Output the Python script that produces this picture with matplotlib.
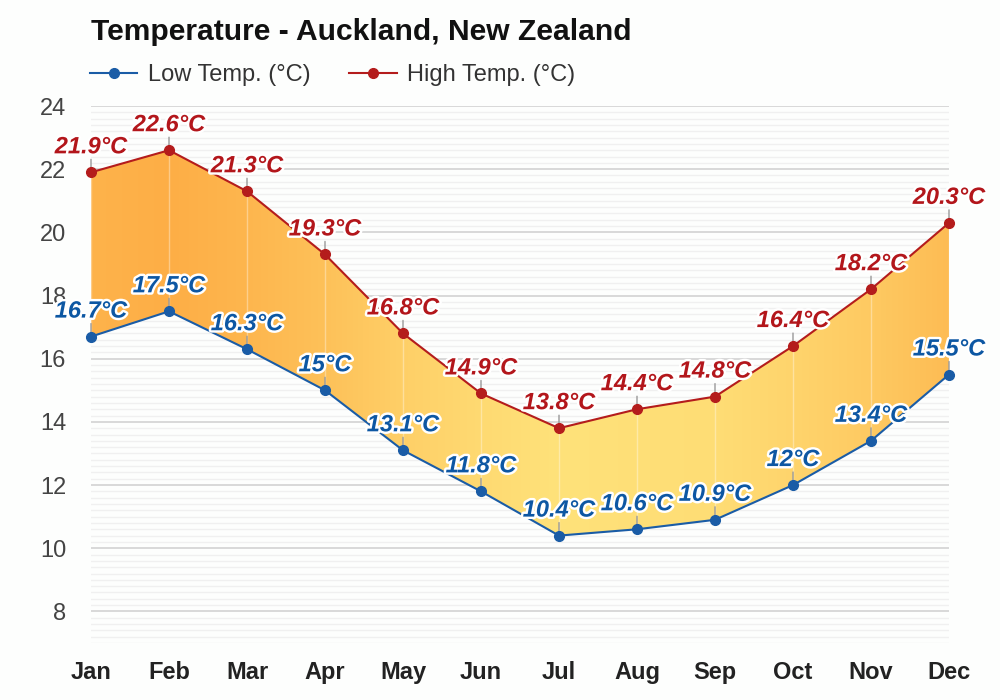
import numpy as np
import matplotlib
matplotlib.use("Agg")
import matplotlib.pyplot as plt
from matplotlib.patches import Polygon
import matplotlib.patheffects as pe

months = ["Jan", "Feb", "Mar", "Apr", "May", "Jun", "Jul", "Aug", "Sep", "Oct", "Nov", "Dec"]
low = [16.7, 17.5, 16.3, 15.0, 13.1, 11.8, 10.4, 10.6, 10.9, 12.0, 13.4, 15.5]
high = [21.9, 22.6, 21.3, 19.3, 16.8, 14.9, 13.8, 14.4, 14.8, 16.4, 18.2, 20.3]
low_labels = ["16.7°C", "17.5°C", "16.3°C", "15°C", "13.1°C", "11.8°C", "10.4°C", "10.6°C", "10.9°C", "12°C", "13.4°C", "15.5°C"]
high_labels = ["21.9°C", "22.6°C", "21.3°C", "19.3°C", "16.8°C", "14.9°C", "13.8°C", "14.4°C", "14.8°C", "16.4°C", "18.2°C", "20.3°C"]

plt.rcParams['font.family'] = ['Liberation Sans', 'DejaVu Sans']

BG = '#fdfefd'
LOW_C = '#1a5ca6'
HIGH_C = '#b41c1c'
LOW_TXT = '#0d57a3'
HIGH_TXT = '#b3161b'

fig = plt.figure(figsize=(10, 7), dpi=100, facecolor=BG)
ax = fig.add_axes([0.091, 1 - 643 / 700, 0.858, (643 - 106) / 700])
ax.set_facecolor(BG)

x = np.arange(len(months))
ax.set_xlim(0, len(months) - 1)
ax.set_ylim(7, 24)

# grid
for v in np.arange(7, 24.01, 0.2):
    major = abs(v / 2 - round(v / 2)) < 1e-6
    ax.axhline(v, color='#d6d6d6' if major else '#f0f0f0', lw=1.3 if major else 1.0, zorder=0)

# gradient fill between low and high
mean = (np.array(low) + np.array(high)) / 2
t = (mean - mean.min()) / (mean.max() - mean.min())
hot = np.array([253, 174, 70]) / 255
cold = np.array([255, 226, 122]) / 255
xs = np.linspace(0, len(months) - 1, 600)
ts = np.interp(xs, x, t)
img = cold[None, :] * (1 - ts[:, None]) + hot[None, :] * ts[:, None]
img = img[None, :, :]
im = ax.imshow(img, extent=[0, len(months) - 1, 7, 24], aspect='auto', origin='lower', zorder=1, interpolation='bilinear')
poly = Polygon(np.column_stack([np.concatenate([x, x[::-1]]), np.concatenate([high, low[::-1]])]),
               closed=True, facecolor='none', edgecolor='none', transform=ax.transData)
ax.add_patch(poly)
im.set_clip_path(poly)

# vertical light lines inside fill
for xi, lo, hi in zip(x, low, high):
    ax.plot([xi, xi], [lo, hi], color='white', alpha=0.35, lw=1, zorder=2)

ax.plot(x, low, color=LOW_C, lw=1.5, marker='o', ms=7, zorder=4, clip_on=False, label='Low Temp. (°C)')
ax.plot(x, high, color=HIGH_C, lw=1.5, marker='o', ms=7, zorder=4, clip_on=False, label='High Temp. (°C)')

stroke = [pe.withStroke(linewidth=3.5, foreground='white')]
for vals, labs, col in ((low, low_labels, LOW_TXT), (high, high_labels, HIGH_TXT)):
    for xi, v, lab in zip(x, vals, labs):
        ax.annotate('', xy=(xi, v), xytext=(0, 13), textcoords='offset pixels',
                    arrowprops=dict(arrowstyle='-', color='#999999', lw=1, shrinkA=0, shrinkB=0), zorder=3)
        ax.annotate(lab, xy=(xi, v), xytext=(0, 14), textcoords='offset pixels', ha='center', va='bottom',
                    fontsize=17, fontweight='bold', fontstyle='italic', color=col, path_effects=stroke,
                    zorder=5, annotation_clip=False)

ax.set_xticks(x)
ax.set_xticklabels(months, fontsize=17, fontweight='bold', color='#222222')
ax.set_yticks(np.arange(8, 25, 2))
ax.set_yticklabels([str(v) for v in range(8, 25, 2)], fontsize=17, color='#444444')
ax.tick_params(axis='both', length=0)
ax.tick_params(axis='y', pad=18)
ax.tick_params(axis='x', pad=13)
for s in ax.spines.values():
    s.set_visible(False)

fig.text(0.091, 1 - 32 / 700, 'Temperature - Auckland, New Zealand', fontsize=21.6, fontweight='bold',
         color='#111111', ha='left', va='center')
leg = ax.legend(loc='center left', bbox_to_anchor=(0.09, 1 - 75 / 700), bbox_transform=fig.transFigure,
                ncol=2, frameon=False, fontsize=17, handlelength=2.0, handletextpad=0.45, columnspacing=1.65,
                borderaxespad=0, borderpad=0)
for t_ in leg.get_texts():
    t_.set_color('#333333')

fig.savefig('out.png', dpi=100, facecolor=BG)
